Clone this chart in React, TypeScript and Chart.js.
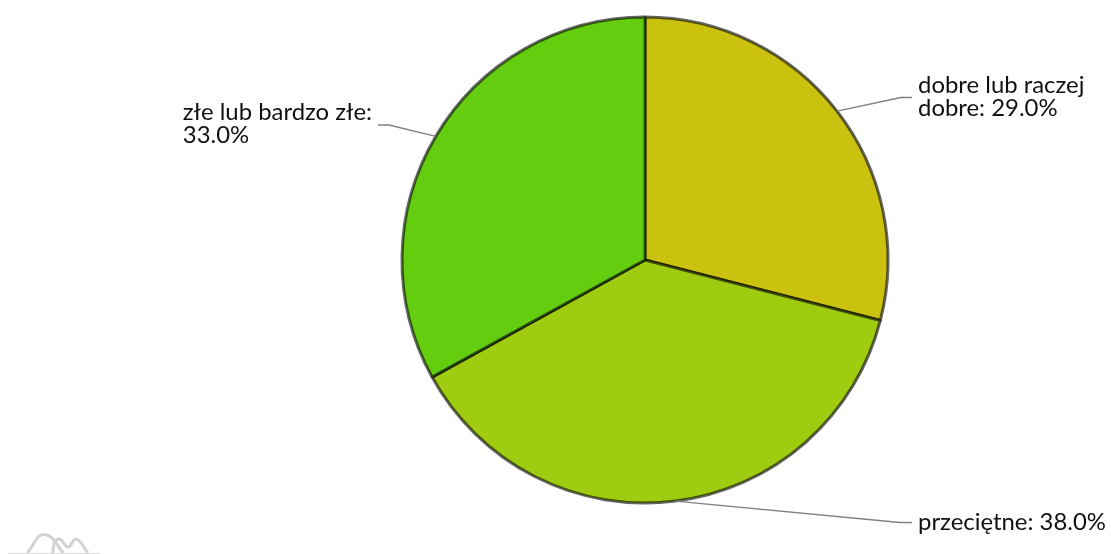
import React, { useEffect, useRef } from "react";
import { Chart, ArcElement, PieController, Plugin } from "chart.js";

Chart.register(ArcElement, PieController);

const categories = ["dobre lub raczej dobre", "przeciętne", "złe lub bardzo złe"];
const shares = [29.0, 38.0, 33.0];
const sliceColors = ["#cbc210", "#9fcc11", "#65cd10"];

const FONT = '23.9px Lato, "Noto Sans", sans-serif';
const LINE_HEIGHT = 23;
const MAX_LABEL_WIDTH = 192;

function wrap(ctx: CanvasRenderingContext2D, text: string): string[] {
  const lines: string[] = [];
  let cur = "";
  for (const w of text.split(" ")) {
    const next = cur ? cur + " " + w : w;
    if (cur && ctx.measureText(next).width > MAX_LABEL_WIDTH) {
      lines.push(cur);
      cur = w;
    } else cur = next;
  }
  if (cur) lines.push(cur);
  return lines;
}

const calloutPlugin: Plugin<"pie"> = {
  id: "callouts",
  afterDatasetsDraw(chart, _args, opts: any) {
    const ctx = chart.ctx;
    const meta = chart.getDatasetMeta(0);
    ctx.save();
    ctx.font = FONT;
    ctx.textBaseline = "middle";
    ctx.textAlign = "left";
    meta.data.forEach((el: any, i: number) => {
      const a = (el.startAngle + el.endAngle) / 2;
      const sx = el.x + Math.cos(a) * el.outerRadius;
      const sy = el.y + Math.sin(a) * el.outerRadius;
      const { elbowX, endX, y } = opts.anchors[i];
      ctx.strokeStyle = "#808080";
      ctx.lineWidth = 1.3;
      ctx.beginPath();
      ctx.moveTo(sx, sy);
      ctx.lineTo(elbowX, y);
      ctx.lineTo(endX, y);
      ctx.stroke();
      const lines = wrap(ctx, `${categories[i]}: ${shares[i].toFixed(1)}%`);
      const widest = Math.max(...lines.map((l) => ctx.measureText(l).width));
      const right = endX > sx;
      const tx = right ? endX + 6 : endX - 6 - widest;
      const top = y - ((lines.length - 1) * LINE_HEIGHT) / 2 - (lines.length > 1 ? 1 : 0);
      ctx.fillStyle = "#111111";
      lines.forEach((l, k) => ctx.fillText(l, tx, top + k * LINE_HEIGHT));
    });
    ctx.restore();
  },
};

const logoPlugin: Plugin<"pie"> = {
  id: "logo",
  afterDraw(chart) {
    const ctx = chart.ctx;
    ctx.save();
    ctx.strokeStyle = "#d2d2d2";
    ctx.lineWidth = 3;
    ctx.beginPath();
    ctx.moveTo(27, 553);
    ctx.bezierCurveTo(33, 548, 36, 534, 44, 534.5);
    ctx.bezierCurveTo(52, 534, 57, 545, 63, 553);
    ctx.stroke();
    ctx.beginPath();
    ctx.moveTo(53, 553);
    ctx.bezierCurveTo(53, 545, 55, 539, 59, 539);
    ctx.bezierCurveTo(63, 539, 64, 547, 68, 547);
    ctx.bezierCurveTo(72, 547, 72, 539, 76, 539);
    ctx.bezierCurveTo(80, 539, 84, 548, 88, 553);
    ctx.stroke();
    ctx.strokeStyle = "#dddddd";
    ctx.lineWidth = 1;
    ctx.beginPath();
    ctx.moveTo(8, 553.5);
    ctx.lineTo(100, 553.5);
    ctx.stroke();
    ctx.restore();
  },
};

export default function App() {
  const ref = useRef<HTMLCanvasElement>(null);
  useEffect(() => {
    const chart = new Chart(ref.current!, {
      type: "pie",
      data: {
        labels: categories,
        datasets: [
          {
            data: shares,
            backgroundColor: sliceColors,
            borderColor: "rgba(0,0,0,0.6)",
            borderWidth: 3,
            hoverOffset: 0,
          },
        ],
      },
      options: {
        responsive: false,
        animation: false,
        events: [],
        layout: { padding: { left: 400.5, right: 221.5, top: 15.5, bottom: 49.5 } },
        plugins: {
          legend: { display: false },
          tooltip: { enabled: false },
          callouts: {
            anchors: [
              { elbowX: 901, endX: 912, y: 97.5 },
              { elbowX: 900, endX: 912, y: 522.5 },
              { elbowX: 389, endX: 378, y: 125 },
            ],
          },
        } as any,
      },
      plugins: [calloutPlugin, logoPlugin],
    });
    return () => chart.destroy();
  }, []);
  return (
    <canvas
      ref={ref}
      width={1111}
      height={554}
      style={{ position: "absolute", left: 0, top: 0, width: 1111, height: 554, display: "block" }}
    />
  );
}
